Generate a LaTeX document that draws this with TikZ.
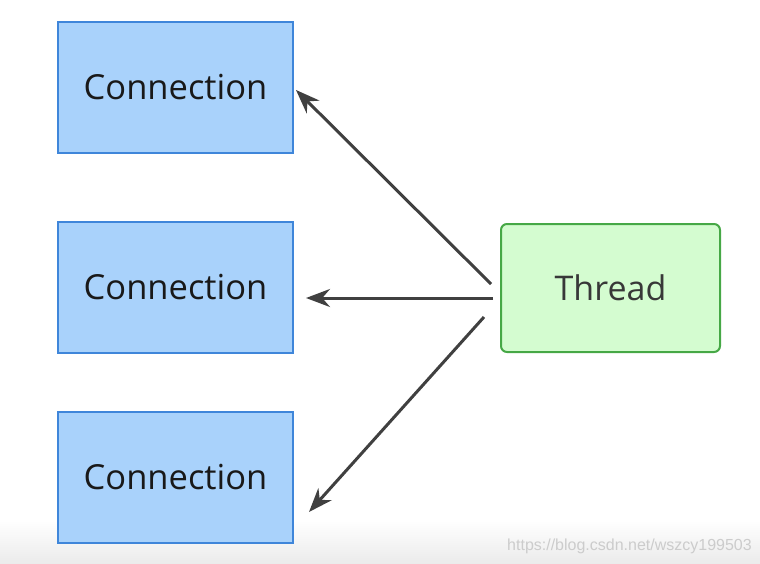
\documentclass[tikz,border=0pt]{standalone}
\usepackage{fontspec}
\setmainfont{Open Sans}
\newfontfamily\wmfont{Liberation Sans}
\usetikzlibrary{calc,arrows.meta}
\definecolor{connfill}{HTML}{A9D2FB}
\definecolor{conndraw}{HTML}{3F86DA}
\definecolor{thrfill}{HTML}{D4FCD0}
\definecolor{thrdraw}{HTML}{46A846}
\definecolor{arrgray}{HTML}{404040}
\begin{document}
\begin{tikzpicture}[x=1pt,y=-1pt,
  conn/.style={rectangle,draw=conndraw,fill=connfill,line width=2pt,minimum width=235pt,minimum height=131pt,inner sep=0pt,font=\fontsize{34.5}{37}\selectfont,text=black!90},
  thrd/.style={rectangle,rounded corners=6pt,draw=thrdraw,fill=thrfill,line width=2pt,minimum width=219pt,minimum height=128pt,inner sep=0pt,font=\fontsize{34}{37}\selectfont,text=black!78},
  arr/.style={draw=arrgray,line width=3pt,-{Stealth[length=24pt,width=18pt]}}]
	\useasboundingbox (0,0) rectangle (760,564);
	\shade[top color=white,bottom color=black!8] (0,520) rectangle (760,564);% grey band at the foot
  	\draw (175.5,87.5) node[conn] (c1) {Connection};
  	\draw (175.5,287.5) node[conn] (c2) {Connection};
  	\draw (175.5,477.5) node[conn] (c3) {Connection};
  	\draw (610.5,288) node[thrd] (thr) {Thread};
	\draw[arr] ($(thr.west)+(-9,-4)$) -- ($(c1.east)+(2,2.5)$);
	\draw[arr] ($(thr.west)+(-7,10)$) -- ($(c2.east)+(12,10.5)$);
	\draw[arr] ($(thr.west)+(-16,29)$) -- ($(c3.east)+(15,34.5)$);
	\node[anchor=east,inner sep=0pt,text=black!20,font=\wmfont\fontsize{16}{17}\selectfont] (wm) at (752,546) {https://blog.csdn.net/wszcy199503};
\end{tikzpicture}
\end{document}
